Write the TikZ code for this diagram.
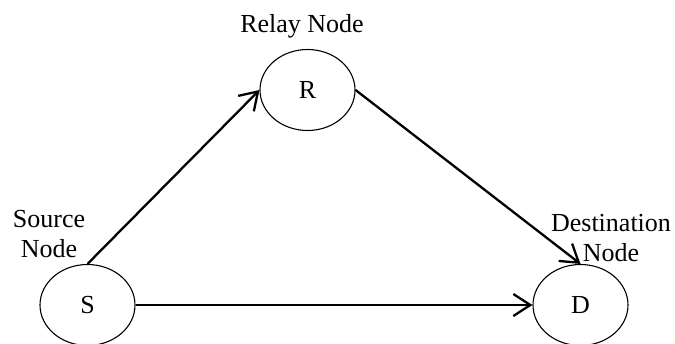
\documentclass[tikz,border=0pt]{standalone}
\usepackage{fontspec}
\setmainfont{Liberation Serif}
\usetikzlibrary{shapes,arrows.meta,positioning}

\begin{document}
\begin{tikzpicture}[x=1pt,y=-1pt,
	every node/.style={font=\fontsize{26}{30}\selectfont},
	station/.style={ellipse, draw, line width=1.1pt, inner sep=0pt, minimum width=95pt, minimum height=81pt},
	link/.style={line width=2.3pt, -{Straight Barb[length=17pt,width=22pt,line width=2.3pt]}}]
	\useasboundingbox (0,0) rectangle (675,343);
	% Nodes
	\node[station] (s) at (87.5,305) {S};
	\node[station] (r) at (307.5,90) {R};
	\node[station] (d) at (580.5,305) {D};
	% Labels
	\node[anchor=base] (rlabel) at (302,32) {Relay Node};
	\node[align=center] (slabel) at (49,234) {Source\\Node};
	\node[align=center] (dlabel) at (611,238) {Destination\\Node};
	% Connections
	\draw[link] (s.north) -- (r.west);
	\draw[link] (r.east) -- (d.north);
	\draw[link] (s.east) -- (d.west);
\end{tikzpicture}
\end{document}
